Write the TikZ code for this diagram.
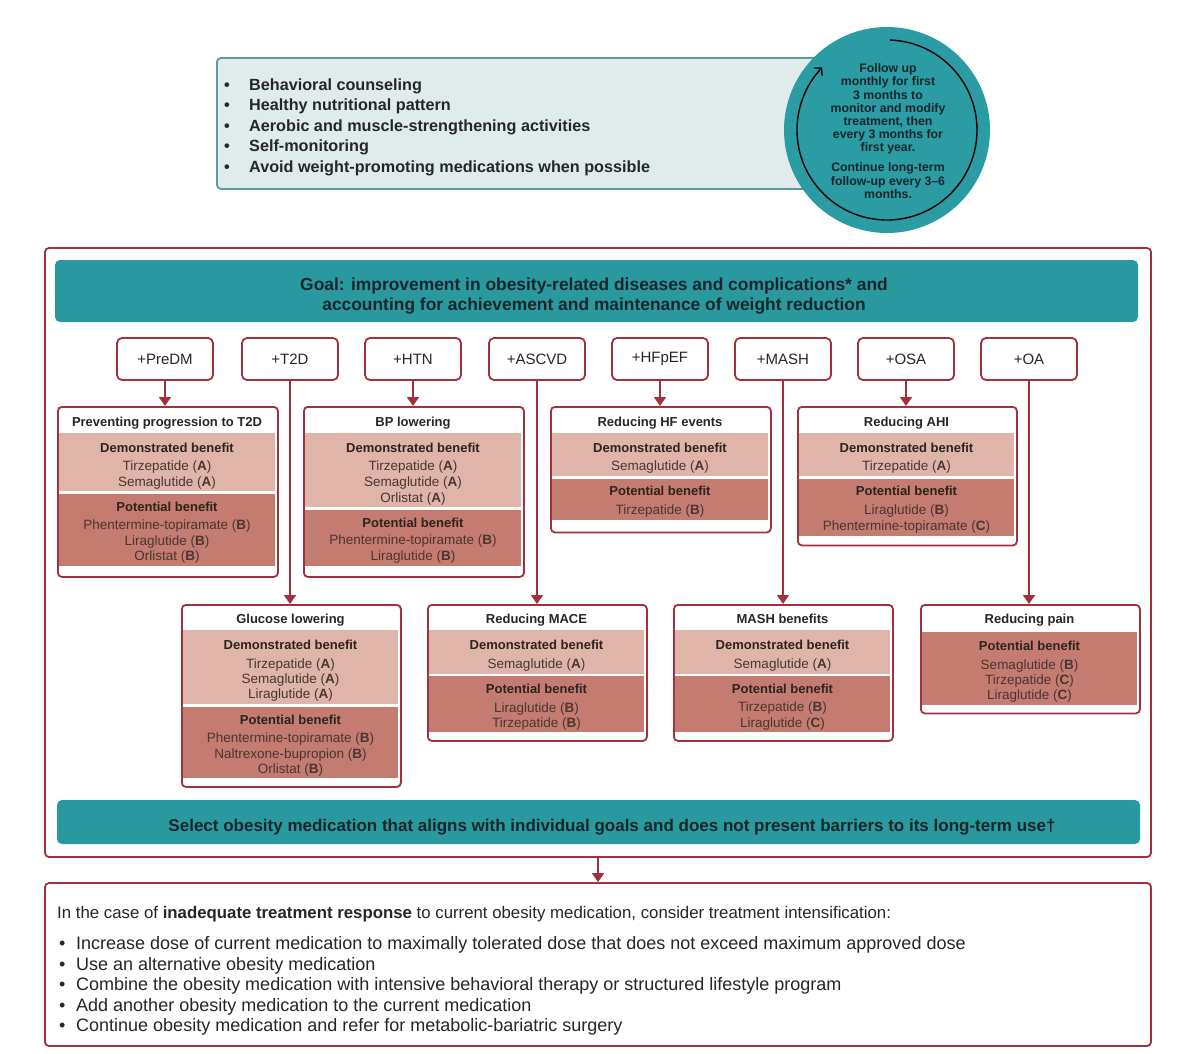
\documentclass[tikz,border=0pt]{standalone}
\usepackage{fontspec}
\setmainfont{Liberation Sans}
\usetikzlibrary{arrows.meta}
\definecolor{tealc}{HTML}{2A999F}
\definecolor{circc}{HTML}{2B9CA3}
\definecolor{topfill}{HTML}{DFECEB}
\definecolor{topdraw}{HTML}{5A9DA0}
\definecolor{redc}{HTML}{A3303D}
\definecolor{lightb}{HTML}{DEB5A8}
\definecolor{darkb}{HTML}{C47C70}
\definecolor{txt}{HTML}{262626}
\definecolor{bandtxt}{HTML}{2E2221}
\definecolor{bandtxt2}{HTML}{4A3533}
\definecolor{bartxt}{HTML}{17262B}
\newcommand\fs[2]{\fontsize{#1}{#2}\selectfont}
\newcounter{lc}
\newcommand\tl[4]{\stepcounter{lc}\node[#1] (tl\arabic{lc}) at (#2,#3+4.7) {#4};}
\newcommand\tlb[4]{\stepcounter{lc}\node[#1] (tl\arabic{lc}) at (#2,#3+5.8) {#4};}
\newcommand\tlc[4]{\stepcounter{lc}\node[#1] (tl\arabic{lc}) at (#2,#3+6.4) {#4};}
\newcommand\bbox[5]{\node[bb, anchor=north west, minimum width={(#4-#2)*1pt}, minimum height={(#5-#3)*1pt}] (#1) at (#2,#3) {};}
\newcommand\band[5]{\fill[#1] (#2+1.6,#3) rectangle (#4-1.6,#5);}
\begin{document}
\begin{tikzpicture}[x=1pt,y=-1pt,
  box/.style={draw=redc, line width=1.8pt, rounded corners=4pt, fill=white, inner sep=0pt},
  tag/.style={box, rounded corners=5pt, minimum width=96pt, minimum height=42pt, font=\fs{15}{18}, text=txt},
  bb/.style={box},
  arr/.style={draw=redc, line width=1.8pt, -{Triangle[width=12pt,length=9pt]}},
  ttl/.style={anchor=base, font=\bfseries\fs{13}{15}, text=txt, inner sep=0pt},
  hd/.style={anchor=base, font=\bfseries\fs{13}{15}, text=bandtxt, inner sep=0pt},
  dg/.style={anchor=base, font=\fs{13.5}{15}, text=bandtxt2, inner sep=0pt},
  tb/.style={anchor=base west, font=\bfseries\fs{16.2}{19}, text=txt, inner sep=0pt},
  bt/.style={anchor=base west, font=\fs{18}{20}, text=txt, inner sep=0pt},
  bar/.style={fill=tealc, rounded corners=5pt, inner sep=0pt, text=bartxt, font=\bfseries\fs{17.4}{20}, align=center}
]
\useasboundingbox (0,0) rectangle (1184,1053);
\fill[white] (0,0) rectangle (1184,1053);

% top box
\node[draw=topdraw, fill=topfill, line width=1.8pt, rounded corners=4pt, anchor=north west, minimum width=614pt, minimum height=131pt, inner sep=0pt] (topbox) at (216,57) {};
\tlb{tb}{224}{85}{\makebox[25pt][l]{•}Behavioral counseling}
\tlb{tb}{224}{105}{\makebox[25pt][l]{•}Healthy nutritional pattern}
\tlb{tb}{224}{126}{\makebox[25pt][l]{•}Aerobic and muscle-strengthening activities}
\tlb{tb}{224}{146}{\makebox[25pt][l]{•}Self-monitoring}
\tlb{tb}{224}{167}{\makebox[25pt][l]{•}Avoid weight-promoting medications when possible}

% circle
\node[circle, fill=circc, minimum size=206pt, inner sep=0pt] (circ) at (887,130) {};
\begin{scope}[shift={(circ.center)}, x=1pt, y=1pt]
\draw[line width=1.4pt, -{Straight Barb[length=5pt,width=11pt]}] (88:90) arc[start angle=88, end angle=-224, radius=90];
\end{scope}
\node[align=center, font=\bfseries\fs{12.3}{13.2}, text=bartxt, inner sep=0pt] (circtext) at (888,131) {Follow up\\monthly for first\\3 months to\\monitor and modify\\treatment, then\\every 3 months for\\first year.\\[6.8pt]Continue long-term\\follow-up every 3–6\\months.};

% main box
\node[box, minimum width=1106pt, minimum height=609pt] (main) at (598,552.5) {};
\node[bar, minimum width=1083pt, minimum height=62pt] (goal) at (596.5,291) {};
\tlc{anchor=base, font=\bfseries\fs{17.4}{20}, text=bartxt, inner sep=0pt}{594}{284}{Goal: improvement in obesity-related diseases and complications* and}
\tlc{anchor=base, font=\bfseries\fs{17.4}{20}, text=bartxt, inner sep=0pt}{594}{304}{accounting for achievement and maintenance of weight reduction}

% tags
\node[tag] (tPreDM) at (165,359) {+PreDM};
\node[tag] (tT2D) at (290,359) {+T2D};
\node[tag] (tHTN) at (413,359) {+HTN};
\node[tag] (tASCVD) at (537,359) {+ASCVD};
\node[tag] (tHFpEF) at (660,359) {+HFpEF};
\node[tag] (tMASH) at (783,359) {+MASH};
\node[tag] (tOSA) at (906,359) {+OSA};
\node[tag] (tOA) at (1029,359) {+OA};

% upper row boxes
\bbox{bPrev}{57}{406}{277}{576}
\band{lightb}{57}{433}{277}{491}
\band{darkb}{57}{493.5}{277}{566}
\tl{ttl}{167}{421.7}{Preventing progression to T2D}
\tl{hd}{167}{448}{Demonstrated benefit}
\tl{dg}{167}{465.7}{Tirzepatide (\textbf{A})}
\tl{dg}{167}{481.7}{Semaglutide (\textbf{A})}
\tl{hd}{167}{506.7}{Potential benefit}
\tl{dg}{167}{524.5}{Phentermine-topiramate (\textbf{B})}
\tl{dg}{167}{540.3}{Liraglutide (\textbf{B})}
\tl{dg}{167}{556}{Orlistat (\textbf{B})}

\bbox{bBP}{303}{406}{523}{576}
\band{lightb}{303}{433}{523}{507}
\band{darkb}{303}{509.5}{523}{566}
\tl{ttl}{413}{421.7}{BP lowering}
\tl{hd}{413}{448}{Demonstrated benefit}
\tl{dg}{413}{465.7}{Tirzepatide (\textbf{A})}
\tl{dg}{413}{481.7}{Semaglutide (\textbf{A})}
\tl{dg}{413}{497.3}{Orlistat (\textbf{A})}
\tl{hd}{413}{522.3}{Potential benefit}
\tl{dg}{413}{540}{Phentermine-topiramate (\textbf{B})}
\tl{dg}{413}{556}{Liraglutide (\textbf{B})}

\bbox{bHF}{550}{406}{770}{531.5}
\band{lightb}{550}{433}{770}{476}
\band{darkb}{550}{478.5}{770}{520}
\tl{ttl}{660}{421.7}{Reducing HF events}
\tl{hd}{660}{448}{Demonstrated benefit}
\tl{dg}{660}{465.7}{Semaglutide (\textbf{A})}
\tl{hd}{660}{491}{Potential benefit}
\tl{dg}{660}{509.3}{Tirzepatide (\textbf{B})}

\bbox{bAHI}{797}{406}{1016}{544.5}
\band{lightb}{797}{433}{1016}{476}
\band{darkb}{797}{478.5}{1016}{536}
\tl{ttl}{906.5}{421.7}{Reducing AHI}
\tl{hd}{906.5}{448}{Demonstrated benefit}
\tl{dg}{906.5}{465.7}{Tirzepatide (\textbf{A})}
\tl{hd}{906.5}{491}{Potential benefit}
\tl{dg}{906.5}{510}{Liraglutide (\textbf{B})}
\tl{dg}{906.5}{525.7}{Phentermine-topiramate (\textbf{C})}

% lower row boxes
\bbox{bGlu}{181}{604}{400}{786}
\band{lightb}{181}{630}{400}{704}
\band{darkb}{181}{706.5}{400}{778}
\tl{ttl}{290.5}{618.3}{Glucose lowering}
\tl{hd}{290.5}{645}{Demonstrated benefit}
\tl{dg}{290.5}{664}{Tirzepatide (\textbf{A})}
\tl{dg}{290.5}{679}{Semaglutide (\textbf{A})}
\tl{dg}{290.5}{694}{Liraglutide (\textbf{A})}
\tl{hd}{290.5}{720}{Potential benefit}
\tl{dg}{290.5}{737.7}{Phentermine-topiramate (\textbf{B})}
\tl{dg}{290.5}{753.3}{Naltrexone-bupropion (\textbf{B})}
\tl{dg}{290.5}{768.3}{Orlistat (\textbf{B})}

\bbox{bMACE}{427}{604}{646}{740}
\band{lightb}{427}{630}{646}{673.5}
\band{darkb}{427}{676}{646}{731.5}
\tl{ttl}{536.5}{618.3}{Reducing MACE}
\tl{hd}{536.5}{645}{Demonstrated benefit}
\tl{dg}{536.5}{663.3}{Semaglutide (\textbf{A})}
\tl{hd}{536.5}{688.3}{Potential benefit}
\tl{dg}{536.5}{707.7}{Liraglutide (\textbf{B})}
\tl{dg}{536.5}{722.7}{Tirzepatide (\textbf{B})}

\bbox{bMASH}{673}{604}{892}{740}
\band{lightb}{673}{630}{892}{673.5}
\band{darkb}{673}{676}{892}{731.5}
\tl{ttl}{782.5}{618.3}{MASH benefits}
\tl{hd}{782.5}{645}{Demonstrated benefit}
\tl{dg}{782.5}{663.3}{Semaglutide (\textbf{A})}
\tl{hd}{782.5}{688.3}{Potential benefit}
\tl{dg}{782.5}{706.7}{Tirzepatide (\textbf{B})}
\tl{dg}{782.5}{722.3}{Liraglutide (\textbf{C})}

\bbox{bPain}{920}{604}{1139}{712.5}
\band{darkb}{920}{632}{1139}{705}
\tl{ttl}{1029.5}{618.3}{Reducing pain}
\tl{hd}{1029.5}{646}{Potential benefit}
\tl{dg}{1029.5}{664.3}{Semaglutide (\textbf{B})}
\tl{dg}{1029.5}{679.7}{Tirzepatide (\textbf{C})}
\tl{dg}{1029.5}{694.3}{Liraglutide (\textbf{C})}

% arrows
\draw[arr] (tPreDM.south) -- (tPreDM.south |- bPrev.north);
\draw[arr] (tT2D.south) -- (tT2D.south |- bGlu.north);
\draw[arr] (tHTN.south) -- (tHTN.south |- bBP.north);
\draw[arr] (tASCVD.south) -- (tASCVD.south |- bMACE.north);
\draw[arr] (tHFpEF.south) -- (tHFpEF.south |- bHF.north);
\draw[arr] (tMASH.south) -- (tMASH.south |- bMASH.north);
\draw[arr] (tOSA.south) -- (tOSA.south |- bAHI.north);
\draw[arr] (tOA.south) -- (tOA.south |- bPain.north);

% select bar
\node[bar, minimum width=1083pt, minimum height=44pt] (sel) at (598.5,822) {};
\tlc{anchor=base, font=\bfseries\fs{17}{20}, text=bartxt, inner sep=0pt}{612}{825}{Select obesity medication that aligns with individual goals and does not present barriers to its long-term use†}

% response box
\node[box, minimum width=1106pt, minimum height=163pt] (resp) at (598,964.5) {};
\draw[arr] (main.south) -- (resp.north);
\tlc{bt, font=\fs{16.8}{20}}{57}{912}{In the case of \textbf{inadequate treatment response} to current obesity medication, consider treatment intensification:}
\tlc{bt}{59}{943}{\makebox[17pt][l]{•}Increase dose of current medication to maximally tolerated dose that does not exceed maximum approved dose}
\tlc{bt}{59}{964}{\makebox[17pt][l]{•}Use an alternative obesity medication}
\tlc{bt}{59}{984}{\makebox[17pt][l]{•}Combine the obesity medication with intensive behavioral therapy or structured lifestyle program}
\tlc{bt}{59}{1005}{\makebox[17pt][l]{•}Add another obesity medication to the current medication}
\tlc{bt}{59}{1025}{\makebox[17pt][l]{•}Continue obesity medication and refer for metabolic-bariatric surgery}
\end{tikzpicture}
\end{document}
